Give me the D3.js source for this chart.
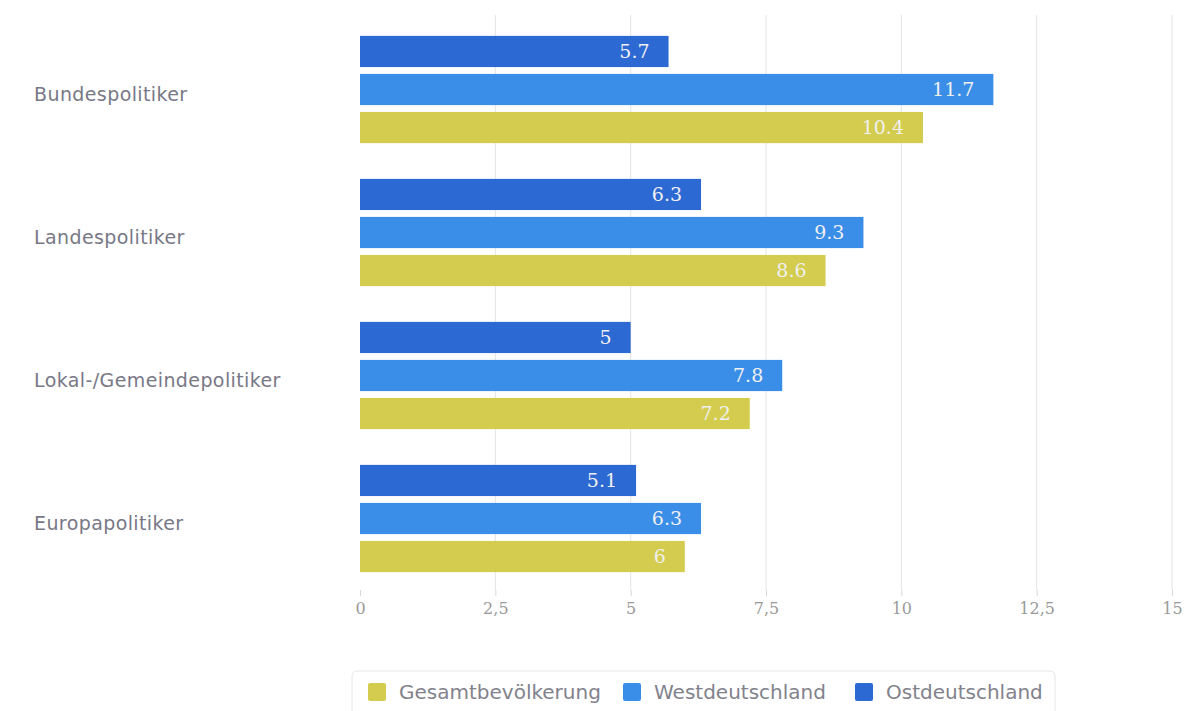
<!DOCTYPE html>
<html><head><meta charset="utf-8">
<script src="https://cdn.jsdelivr.net/npm/d3@7"></script>
<style>body{margin:0;background:#fff}svg{display:block}</style>
</head><body>
<svg id="c" width="1200" height="711"></svg>
<script>
const categories = ["Bundespolitiker","Landespolitiker","Lokal-/Gemeindepolitiker","Europapolitiker"];
const seriesNames = ["Ostdeutschland","Westdeutschland","Gesamtbevölkerung"];
const ost = [5.7, 6.3, 5, 5.1];
const west = [11.7, 9.3, 7.8, 6.3];
const gesamt = [10.4, 8.6, 7.2, 6];
const tickValues = [0, 2.5, 5, 7.5, 10, 12.5, 15];
const legendOrder = ["Gesamtbevölkerung","Westdeutschland","Ostdeutschland"];
const colors = {"Ostdeutschland":"#2d69d3","Westdeutschland":"#3a8ee8","Gesamtbevölkerung":"#d4cc4e"};
const values = {"Ostdeutschland":ost,"Westdeutschland":west,"Gesamtbevölkerung":gesamt};

const svg = d3.select("#c");
const x = d3.scaleLinear().domain([0,15]).range([360,1172]);
const y0 = d3.scaleBand().domain(categories).range([18,590]).paddingInner(0.25).paddingOuter(0.125);
const y1 = d3.scaleBand().domain(seriesNames).range([0,y0.bandwidth()]).paddingInner(0.18);
const fmt = v => String(v).replace(".", ",");

// gridlines
svg.append("g").selectAll("line").data(tickValues.slice(1)).join("line")
  .attr("x1",d=>x(d)).attr("x2",d=>x(d)).attr("y1",15).attr("y2",590)
  .attr("stroke","#e4e4e4").attr("stroke-width",1);

// axis
const ax = svg.append("g").attr("transform","translate(0,590)")
  .call(d3.axisBottom(x).tickValues(tickValues).tickSize(6).tickFormat(fmt));
ax.select(".domain").remove();
ax.selectAll(".tick line").attr("stroke","#d8d8d8");
ax.selectAll(".tick text").attr("fill","#9a9a9a").attr("font-family","DejaVu Serif, serif")
  .attr("font-size",16).attr("dy","0.95em");

// bars
const g = svg.append("g").selectAll("g").data(categories).join("g")
  .attr("transform",d=>`translate(0,${y0(d)})`);
seriesNames.forEach(s=>{
  g.append("rect").attr("x",x(0)).attr("y",y1(s))
    .attr("width",(d,i)=>x(values[s][i])-x(0)).attr("height",y1.bandwidth())
    .attr("fill",colors[s]);
  g.append("text").attr("x",(d,i)=>x(values[s][i])-19).attr("y",y1(s)+y1.bandwidth()/2)
    .attr("dy","0.36em").attr("text-anchor","end").attr("fill","#f0f0f0")
    .attr("font-family","DejaVu Serif, serif").attr("font-size",19)
    .text((d,i)=>String(values[s][i]));
});

// category labels
svg.append("g").selectAll("text").data(categories).join("text")
  .attr("x",34).attr("y",d=>y0(d)+y0.bandwidth()/2+5).attr("dy","0.35em")
  .attr("fill","#787886").attr("font-family","DejaVu Sans, sans-serif").attr("font-size",19)
  .attr("letter-spacing",0.4)
  .text(d=>d);

// legend
const lg = svg.append("g");
lg.append("rect").attr("x",352).attr("y",671).attr("width",703).attr("height",50).attr("rx",5)
  .attr("fill","#fff").attr("stroke","#e6e6e6");
const legX = [368,623,855];
legendOrder.forEach((s,i)=>{
  lg.append("rect").attr("x",legX[i]).attr("y",683).attr("width",18).attr("height",18).attr("rx",2).attr("fill",colors[s]);
  lg.append("text").attr("x",legX[i]+31).attr("y",692).attr("dy","0.35em")
    .attr("fill","#82828c").attr("font-family","DejaVu Sans, sans-serif").attr("font-size",20).text(s);
});
</script>
</body></html>
